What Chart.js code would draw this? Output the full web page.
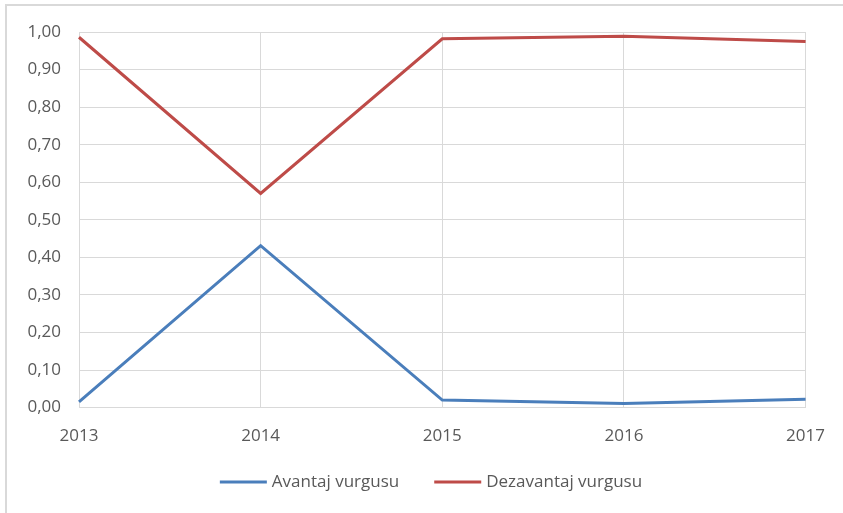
<!DOCTYPE html>
<html>
<head>
<meta charset="utf-8">
<script src="https://cdn.jsdelivr.net/npm/chart.js@4"></script>
<style>
  html, body { margin: 0; padding: 0; background: #fff; }
  #wrap { position: relative; width: 843px; height: 513px; }
  #frame { position: absolute; left: 5px; top: 4px; right: 0; bottom: 0;
           border-left: 2px solid #d9d9d9; border-top: 2px solid #d9d9d9; }
  canvas { position: absolute; left: 0; top: 0; }
</style>
</head>
<body>
<div id="wrap">
  <div id="frame"></div>
  <canvas id="chart" width="843" height="513"></canvas>
</div>
<script>
// years on the x axis
const years = ['2013', '2014', '2015', '2016', '2017'];

// share of each framing per year
const avantaj = [0.015, 0.431, 0.020, 0.011, 0.022];
const dezavantaj = [0.986, 0.570, 0.982, 0.989, 0.975];

const BLUE = '#4a7ebb';
const RED = '#be4b48';
const TEXT = '#595959';
const GRID = '#d9d9d9';
const FONT = { family: 'Open Sans', size: 17 };

// Excel-style legend under the x labels (wider gaps than Chart.js gives)
const bottomLegend = {
  id: 'bottomLegend',
  afterDraw(chart) {
    const c = chart.ctx;
    const lineW = 47, gapText = 5, gapItem = 35;
    c.save();
    c.font = `${FONT.size}px "${FONT.family}"`;
    const items = chart.data.datasets.map(ds => ({
      text: ds.label, color: ds.borderColor, w: c.measureText(ds.label).width
    }));
    const total = items.reduce((s, it) => s + lineW + gapText + it.w, 0) + gapItem * (items.length - 1);
    let x = 431 - total / 2;
    const y = 482;
    c.textBaseline = 'middle';
    items.forEach(it => {
      c.strokeStyle = it.color;
      c.lineWidth = 3;
      c.beginPath();
      c.moveTo(x, y);
      c.lineTo(x + lineW, y);
      c.stroke();
      c.fillStyle = TEXT;
      c.fillText(it.text, x + lineW + gapText, y);
      x += lineW + gapText + it.w + gapItem;
    });
    c.restore();
  }
};

document.addEventListener('DOMContentLoaded', () => {
  const ctx = document.getElementById('chart').getContext('2d');

  new Chart(ctx, {
    type: 'line',
    data: {
      labels: years,
      datasets: [
        { label: 'Avantaj vurgusu', data: avantaj, borderColor: BLUE, backgroundColor: BLUE,
          borderWidth: 3, pointRadius: 0, tension: 0 },
        { label: 'Dezavantaj vurgusu', data: dezavantaj, borderColor: RED, backgroundColor: RED,
          borderWidth: 3, pointRadius: 0, tension: 0 }
      ]
    },
    plugins: [bottomLegend],
    options: {
      responsive: false,
      animation: false,
      layout: { padding: { left: 0, right: 37, top: 32, bottom: 49 } },
      plugins: {
        tooltip: { enabled: false },
        legend: { display: false }
      },
      scales: {
        x: {
          offset: false,
          grid: { color: GRID, drawTicks: false },
          border: { color: GRID },
          ticks: { color: TEXT, font: FONT, padding: 18, maxRotation: 0 }
        },
        y: {
          min: 0,
          max: 1,
          grid: { color: GRID, drawTicks: false },
          border: { display: false },
          ticks: {
            stepSize: 0.1,
            color: TEXT,
            font: FONT,
            padding: 18,
            callback: v => v.toFixed(2).replace('.', ',')
          },
          afterFit: s => { s.width = 79; }
        }
      }
    }
  });
});
</script>
</body>
</html>
